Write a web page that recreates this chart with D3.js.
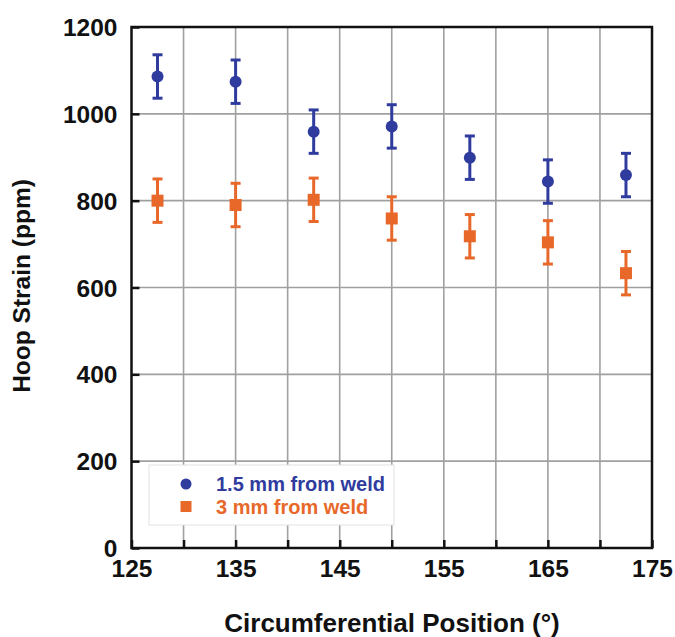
<!DOCTYPE html>
<html><head><meta charset="utf-8">
<script src="https://cdn.jsdelivr.net/npm/d3@7"></script>
<style>body{margin:0;background:#fff;}svg{display:block;font-family:"Liberation Sans",Arial,sans-serif;font-weight:bold;}</style>
</head><body>
<svg id="c" width="675" height="637"></svg>
<script>
const positions = [127.5, 135, 142.5, 150, 157.5, 165, 172.5];
const strain15 = [1086, 1074, 959, 971, 899, 844, 859];
const err15 = [50, 50, 50, 50, 50, 50, 50];
const strain3 = [800, 790, 802, 759, 718, 704, 633];
const err3 = [50, 50, 50, 50, 50, 50, 50];
const seriesNames = ["1.5 mm from weld", "3 mm from weld"];
const xTicks = [125, 135, 145, 155, 165, 175];
const xGrid = [130, 135, 140, 145, 150, 155, 160, 165, 170];
const yTicks = [0, 200, 400, 600, 800, 1000, 1200];

const blue = "#2f3c9e", orange = "#e8682a";
const svg = d3.select("#c");
const L = 131.5, R = 652, T = 27, B = 548;
const x = d3.scaleLinear().domain([125, 175]).range([L, R]);
const y = d3.scaleLinear().domain([0, 1200]).range([B, T]);

// grid
svg.append("g").selectAll("line.v").data(xGrid).join("line")
  .attr("x1", d => x(d)).attr("x2", d => x(d)).attr("y1", T).attr("y2", B)
  .attr("stroke", "#a0a0a0").attr("stroke-width", 1.6);
svg.append("g").selectAll("line.h").data(yTicks.filter(d => d > 0 && d < 1200)).join("line")
  .attr("x1", L).attr("x2", R).attr("y1", d => y(d)).attr("y2", d => y(d))
  .attr("stroke", "#a0a0a0").attr("stroke-width", 1.6);

// axes
const yAxis = d3.axisLeft(y).tickValues(yTicks).tickSize(-8).tickPadding(14).tickFormat(d3.format("d"));
const gy = svg.append("g").attr("transform", `translate(${L},0)`).call(yAxis);
gy.select(".domain").remove();
gy.selectAll(".tick line").attr("stroke", "#111").attr("stroke-width", 2.5);
gy.selectAll("text").attr("font-size", 24.5).attr("font-weight", "bold").attr("fill", "#111").attr("font-family", "Liberation Sans, Arial, sans-serif").attr("dy", "0.35em");

const xAxis = d3.axisBottom(x).tickValues(xGrid.concat([125, 175])).tickSize(-8).tickPadding(10)
  .tickFormat(d => xTicks.includes(d) ? d : "");
const gx = svg.append("g").attr("transform", `translate(0,${B})`).call(xAxis);
gx.select(".domain").remove();
gx.selectAll(".tick line").attr("stroke", "#111").attr("stroke-width", 2.5);
gx.selectAll("text").attr("font-size", 24.5).attr("font-weight", "bold").attr("fill", "#111").attr("font-family", "Liberation Sans, Arial, sans-serif").attr("y", 20).attr("dy", "0.35em");

svg.append("rect").attr("x", L).attr("y", T).attr("width", R - L).attr("height", B - T)
  .attr("fill", "none").attr("stroke", "#111").attr("stroke-width", 2.5);

// series
function drawSeries(vals, errs, color, shape) {
  const g = svg.append("g");
  const d = positions.map((p, i) => ({x: p, v: vals[i], e: errs[i]}));
  g.selectAll("line.eb").data(d).join("line")
    .attr("x1", p => x(p.x)).attr("x2", p => x(p.x))
    .attr("y1", p => y(p.v + p.e)).attr("y2", p => y(p.v - p.e))
    .attr("stroke", color).attr("stroke-width", 3);
  [1, -1].forEach(s => {
    g.selectAll(null).data(d).join("line")
      .attr("x1", p => x(p.x) - 5).attr("x2", p => x(p.x) + 5)
      .attr("y1", p => y(p.v + s * p.e)).attr("y2", p => y(p.v + s * p.e))
      .attr("stroke", color).attr("stroke-width", 3);
  });
  if (shape === "circle") {
    g.selectAll("circle").data(d).join("circle")
      .attr("cx", p => x(p.x)).attr("cy", p => y(p.v)).attr("r", 6).attr("fill", color);
  } else {
    g.selectAll("rect").data(d).join("rect")
      .attr("x", p => x(p.x) - 6).attr("y", p => y(p.v) - 6).attr("width", 12).attr("height", 12).attr("fill", color);
  }
}
drawSeries(strain15, err15, blue, "circle");
drawSeries(strain3, err3, orange, "square");

// legend
const lg = svg.append("g");
lg.append("rect").attr("x", 149).attr("y", 465).attr("width", 245).attr("height", 60)
  .attr("fill", "#fff").attr("stroke", "#e2e2e2").attr("stroke-width", 1);
lg.append("circle").attr("cx", 186).attr("cy", 484).attr("r", 5.5).attr("fill", blue);
lg.append("rect").attr("x", 180.5).attr("y", 501).attr("width", 11).attr("height", 11).attr("fill", orange);
lg.append("text").attr("x", 216).attr("y", 484).attr("dy", "0.35em").attr("font-size", 20).attr("fill", blue).text(seriesNames[0]);
lg.append("text").attr("x", 216).attr("y", 507).attr("dy", "0.35em").attr("font-size", 20).attr("fill", orange).text(seriesNames[1]);

// titles
svg.append("text").attr("x", 392).attr("y", 623).attr("dy", "0.35em").attr("text-anchor", "middle")
  .attr("font-size", 26).attr("fill", "#111").text("Circumferential Position (°)");
svg.append("text").attr("transform", "translate(21,286) rotate(-90)").attr("dy", "0.35em").attr("text-anchor", "middle")
  .attr("font-size", 24.5).attr("fill", "#111").text("Hoop Strain (ppm)");
</script>
</body></html>
